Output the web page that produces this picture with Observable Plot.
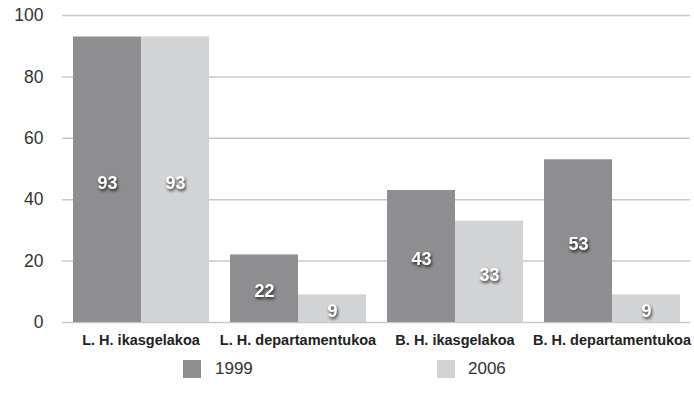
<!DOCTYPE html>
<html>
<head>
<meta charset="utf-8">
<script src="https://cdn.jsdelivr.net/npm/d3@7"></script>
<script src="https://cdn.jsdelivr.net/npm/@observablehq/plot@0.6"></script>
<style>
  body { margin: 0; background: #fff; font-family: "Liberation Sans", Arial, sans-serif; }
  #chart { position: relative; width: 694px; }
  g[aria-label="text"] text { filter: drop-shadow(1px 2px 1.5px rgba(0,0,0,0.75)); }
  .legend { position: relative; height: 50px; font-size: 17px; color: #333; }
  .legend .sw { position: absolute; top: 6px; width: 18px; height: 18px; }
  .legend .lb { position: absolute; top: 5px; }
</style>
</head>
<body>
<div id="chart"></div>
<script>
const categories = ["L. H. ikasgelakoa", "L. H. departamentukoa", "B. H. ikasgelakoa", "B. H. departamentukoa"];
const years = ["1999", "2006"];
const values1999 = [93, 22, 43, 53];
const values2006 = [93, 9, 33, 9];
const yTicks = [0, 20, 40, 60, 80, 100];
const colors = ["#8e8e91", "#d2d3d5"];

const rows = [];
categories.forEach((c, i) => {
  rows.push({cat: c, year: years[0], value: values1999[i]});
  rows.push({cat: c, year: years[1], value: values2006[i]});
});

const chart = Plot.plot({
  width: 694,
  height: 354,
  marginLeft: 62,
  marginRight: 4,
  marginTop: 15,
  marginBottom: 32,
  style: {fontFamily: "Liberation Sans, Arial, sans-serif", background: "#fff"},
  facet: {data: rows, x: "cat"},
  fx: {domain: categories, padding: 0, label: null, axis: "bottom", tickSize: 0, tickPadding: 12},
  x: {domain: years, paddingInner: 0, paddingOuter: 0.146, axis: null},
  y: {domain: [0, 100], ticks: yTicks, label: null, tickSize: 0, tickPadding: 19},
  color: {domain: years, range: colors},
  marks: [
    Plot.ruleY(yTicks, {stroke: "#c8c8ca", strokeWidth: 1.5}),
    Plot.barY(rows, {x: "year", y: "value", fill: "year"}),
    Plot.text(rows, {x: "year", y: d => d.value / 2, dy: 3, text: d => String(d.value), fill: "#fff", fontWeight: "bold", fontSize: 18})
  ]
});
d3.select(chart).selectAll('g[aria-label="fx-axis tick label"] text, g[aria-label="fx-axis"] text')
  .style("font-size", "14.5px").style("font-weight", "bold").style("fill", "#222");
d3.select(chart).selectAll('g[aria-label="y-axis tick label"] text, g[aria-label="y-axis"] text')
  .style("font-size", "17.5px").style("fill", "#333");
document.getElementById("chart").appendChild(chart);

const legend = document.createElement("div");
legend.className = "legend";
const lefts = [[183, 215], [437, 468]];
years.forEach((y, i) => {
  const sw = document.createElement("div");
  sw.className = "sw";
  sw.style.left = lefts[i][0] + "px";
  sw.style.background = colors[i];
  const lb = document.createElement("div");
  lb.className = "lb";
  lb.style.left = lefts[i][1] + "px";
  lb.textContent = y;
  legend.appendChild(sw);
  legend.appendChild(lb);
});
document.getElementById("chart").appendChild(legend);
</script>
</body>
</html>
